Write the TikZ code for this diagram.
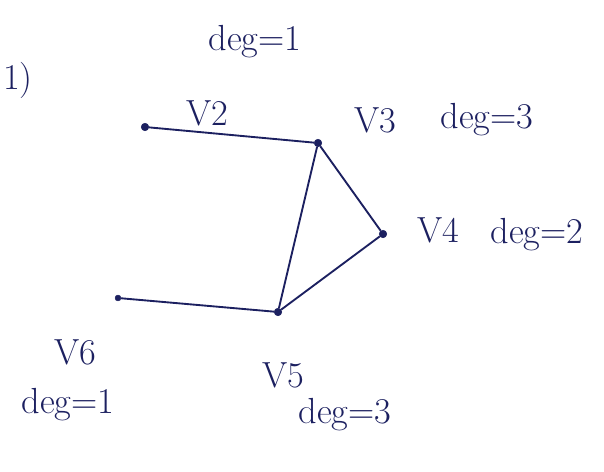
\documentclass[tikz,border=0pt]{standalone}
\usepackage{tikz}
\definecolor{ink}{RGB}{28,32,96}

\begin{document}
\begin{tikzpicture}[x=0.03cm,y=-0.03cm,
                vertex/.style={circle,fill=ink,draw=ink,inner sep=0pt,minimum size=6.5pt},
                lbl/.style={text=ink,font=\fontsize{31}{37}\selectfont},
                edge/.style={draw=ink,line width=1.6pt}]
                \useasboundingbox (0,0) rectangle (604,472);
                % vertices
                \node[vertex] (v2) at (145,127) {};
                \node[vertex] (v3) at (318,143) {};
                \node[vertex] (v4) at (383,234) {};
                \node[vertex] (v5) at (278,312) {};
                \node[vertex,minimum size=5pt] (v6) at (118,298) {};
                % edges
                \path[edge] (v2) -- (v3) (v3) -- (v4) (v3) -- (v5) (v4) -- (v5) (v6) -- (v5);
                % labels
                \node[lbl] (num) at (18,80) {1)};
                \node[lbl] (n2) at (207,113) {V2};
                \node[lbl] (d2) at (255,42) {deg=1};
                \node[lbl] (n3) at (375,120) {V3};
                \node[lbl] (d3) at (487,120) {deg=3};
                \node[lbl] (n4) at (438,230) {V4};
                \node[lbl] (d4) at (537,235) {deg=2};
                \node[lbl] (n6) at (75,352) {V6};
                \node[lbl] (d6) at (68,405) {deg=1};
                \node[lbl] (n5) at (283,375) {V5};
                \node[lbl] (d5) at (345,415) {deg=3};
\end{tikzpicture}
\end{document}
